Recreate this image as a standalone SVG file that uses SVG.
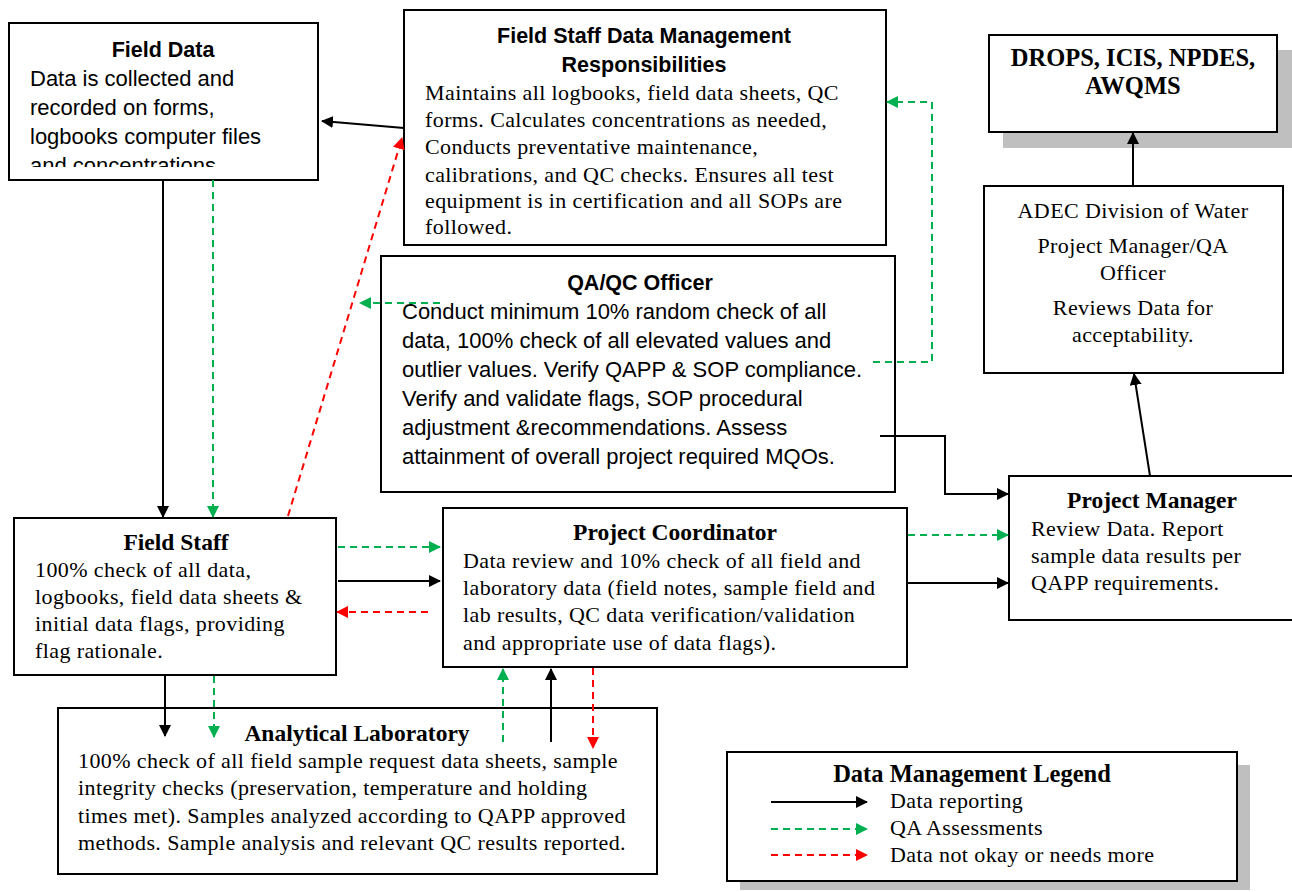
<svg xmlns="http://www.w3.org/2000/svg" width="1292" height="892" viewBox="0 0 1292 892">
<style>
.box{fill:#fff;stroke:#000;stroke-width:2}
.shadow{fill:#bfbfbf;stroke:none}
.sans{font-family:"Liberation Sans",Arial,sans-serif;font-size:22px;fill:#000}
.sansb{font-family:"Liberation Sans",Arial,sans-serif;font-size:21.5px;font-weight:bold;fill:#000}
.serif{font-family:"Liberation Serif","Times New Roman",serif;font-size:22px;letter-spacing:0.4px;fill:#000}
.serifb{font-family:"Liberation Serif","Times New Roman",serif;font-size:23.5px;font-weight:bold;fill:#000}
.big{font-size:24.5px}
.c{text-anchor:middle}
.blk{stroke:#000;stroke-width:2;fill:none}
.grn{stroke:#00b050;stroke-width:2;fill:none;stroke-dasharray:7,5}
.red{stroke:#ff0000;stroke-width:2;fill:none;stroke-dasharray:7,5}
</style>
<defs>
<marker id="ab" markerWidth="12" markerHeight="12" refX="11" refY="6" orient="auto" markerUnits="userSpaceOnUse" viewBox="0 0 12 12"><path d="M0,0 L12,6 L0,12 z" fill="#000"/></marker>
<marker id="ag" markerWidth="12" markerHeight="12" refX="11" refY="6" orient="auto" markerUnits="userSpaceOnUse" viewBox="0 0 12 12"><path d="M0,0 L12,6 L0,12 z" fill="#00b050"/></marker>
<marker id="ar" markerWidth="12" markerHeight="12" refX="11" refY="6" orient="auto" markerUnits="userSpaceOnUse" viewBox="0 0 12 12"><path d="M0,0 L12,6 L0,12 z" fill="#ff0000"/></marker>
<clipPath id="fdclip"><rect x="10" y="24" width="307" height="143"/></clipPath>
</defs>
<rect width="1292" height="892" fill="#fff"/>

<g id="field-data">
<rect class="box" x="9" y="23" width="309" height="157"/>
<g clip-path="url(#fdclip)">
<text class="sansb c" x="163" y="57">Field Data</text>
<text class="sans" x="30" y="86">Data is collected and</text>
<text class="sans" x="30" y="115">recorded on forms,</text>
<text class="sans" x="30" y="144">logbooks computer files</text>
<text class="sans" x="30" y="173">and concentrations</text>
</g>
</g>

<g id="field-staff-dm">
<rect class="box" x="404" y="10" width="482" height="235"/>
<text class="sansb c" x="644" y="43">Field Staff Data Management</text>
<text class="sansb c" x="644" y="72">Responsibilities</text>
<text class="serif" x="425" y="100">Maintains all logbooks, field data sheets, QC</text>
<text class="serif" x="425" y="127">forms. Calculates concentrations as needed,</text>
<text class="serif" x="425" y="154">Conducts preventative maintenance,</text>
<text class="serif" x="425" y="182">calibrations, and QC checks. Ensures all test</text>
<text class="serif" x="425" y="208">equipment is in certification and all SOPs are</text>
<text class="serif" x="425" y="234">followed.</text>
</g>

<g id="drops">
<rect class="shadow" x="1003" y="50" width="289" height="98"/>
<rect class="box" x="989" y="35" width="288" height="97"/>
<text class="serifb big c" x="1133" y="66">DROPS, ICIS, NPDES,</text>
<text class="serifb big c" x="1133" y="94">AWQMS</text>
</g>

<g id="adec">
<rect class="box" x="984" y="186" width="299" height="187"/>
<text class="serif c" x="1133" y="218">ADEC Division of Water</text>
<text class="serif c" x="1133" y="253">Project Manager/QA</text>
<text class="serif c" x="1133" y="280">Officer</text>
<text class="serif c" x="1133" y="315">Reviews Data for</text>
<text class="serif c" x="1133" y="342">acceptability.</text>
</g>

<g id="qaqc">
<rect class="box" x="381" y="256" width="514" height="236"/>
<text class="sansb c" x="640" y="290">QA/QC Officer</text>
<text class="sans" x="402" y="319">Conduct minimum 10% random check of all</text>
<text class="sans" x="402" y="348">data, 100% check of all elevated values and</text>
<text class="sans" x="402" y="377">outlier values. Verify QAPP &amp; SOP compliance.</text>
<text class="sans" x="402" y="406">Verify and validate flags, SOP procedural</text>
<text class="sans" x="402" y="435">adjustment &amp;recommendations. Assess</text>
<text class="sans" x="402" y="464">attainment of overall project required MQOs.</text>
</g>

<g id="field-staff">
<rect class="box" x="14" y="518" width="322" height="157"/>
<text class="serifb c" x="176" y="550">Field Staff</text>
<text class="serif" x="35" y="577">100% check of all data,</text>
<text class="serif" x="35" y="604">logbooks, field data sheets &amp;</text>
<text class="serif" x="35" y="631">initial data flags, providing</text>
<text class="serif" x="35" y="658">flag rationale.</text>
</g>

<g id="project-coordinator">
<rect class="box" x="443" y="508" width="464" height="159"/>
<text class="serifb c" x="675" y="540">Project Coordinator</text>
<text class="serif" x="463" y="568">Data review and 10% check of all field and</text>
<text class="serif" x="463" y="595">laboratory data (field notes, sample field and</text>
<text class="serif" x="463" y="622">lab results, QC data verification/validation</text>
<text class="serif" x="463" y="650">and appropriate use of data flags).</text>
</g>

<g id="project-manager">
<rect class="box" x="1009" y="476" width="284" height="144"/>
<text class="serifb c" x="1152" y="508">Project Manager</text>
<text class="serif" x="1031" y="536">Review Data. Report</text>
<text class="serif" x="1031" y="563">sample data results per</text>
<text class="serif" x="1031" y="590">QAPP requirements.</text>
</g>

<g id="analytical-lab">
<rect class="box" x="58" y="708" width="599" height="166"/>
<text class="serifb c" x="357" y="741">Analytical Laboratory</text>
<text class="serif" x="78" y="768">100% check of all field sample request data sheets, sample</text>
<text class="serif" x="78" y="795">integrity checks (preservation, temperature and holding</text>
<text class="serif" x="78" y="823">times met). Samples analyzed according to QAPP approved</text>
<text class="serif" x="78" y="850">methods. Sample analysis and relevant QC results reported.</text>
</g>

<g id="connectors">
<line class="blk" x1="404" y1="128" x2="322" y2="121" marker-end="url(#ab)"/>
<line class="red" x1="288" y1="516" x2="402" y2="138" marker-end="url(#ar)"/>
<line class="blk" x1="163" y1="180" x2="163" y2="517" marker-end="url(#ab)"/>
<line class="grn" x1="213" y1="180" x2="213" y2="517" marker-end="url(#ag)"/>
<polyline class="grn" points="873,362 932,362 932,102 887,102" marker-end="url(#ag)"/>
<line class="grn" x1="440" y1="303" x2="360" y2="303" marker-end="url(#ag)"/>
<line class="grn" x1="338" y1="547" x2="440" y2="547" marker-end="url(#ag)"/>
<line class="blk" x1="338" y1="581" x2="440" y2="581" marker-end="url(#ab)"/>
<line class="red" x1="428" y1="612" x2="337" y2="612" marker-end="url(#ar)"/>
<line class="blk" x1="165" y1="676" x2="165" y2="736" marker-end="url(#ab)"/>
<line class="grn" x1="214" y1="676" x2="214" y2="737" marker-end="url(#ag)"/>
<line class="grn" x1="503" y1="742" x2="503" y2="669" marker-end="url(#ag)"/>
<line class="blk" x1="551" y1="742" x2="551" y2="669" marker-end="url(#ab)"/>
<line class="red" x1="593" y1="668" x2="593" y2="748" marker-end="url(#ar)"/>
<line class="grn" x1="908" y1="535" x2="1008" y2="535" marker-end="url(#ag)"/>
<line class="blk" x1="908" y1="583" x2="1008" y2="583" marker-end="url(#ab)"/>
<polyline class="blk" points="880,436 945,436 945,494 1008,494" marker-end="url(#ab)"/>
<line class="blk" x1="1150" y1="476" x2="1134" y2="374" marker-end="url(#ab)"/>
<line class="blk" x1="1133" y1="186" x2="1133" y2="133" marker-end="url(#ab)"/>
</g>

<g id="legend">
<rect class="shadow" x="740" y="765" width="510" height="125"/>
<rect class="box" x="727" y="752" width="510" height="129"/>
<text class="serifb big c" x="972" y="782">Data Management Legend</text>
<line class="blk" x1="771" y1="802" x2="867" y2="802" marker-end="url(#ab)"/>
<line class="grn" x1="771" y1="829" x2="867" y2="829" marker-end="url(#ag)"/>
<line class="red" x1="771" y1="855" x2="867" y2="855" marker-end="url(#ar)"/>
<text class="serif" x="890" y="808">Data reporting</text>
<text class="serif" x="890" y="835">QA Assessments</text>
<text class="serif" x="890" y="862">Data not okay or needs more</text>
</g>
</svg>
